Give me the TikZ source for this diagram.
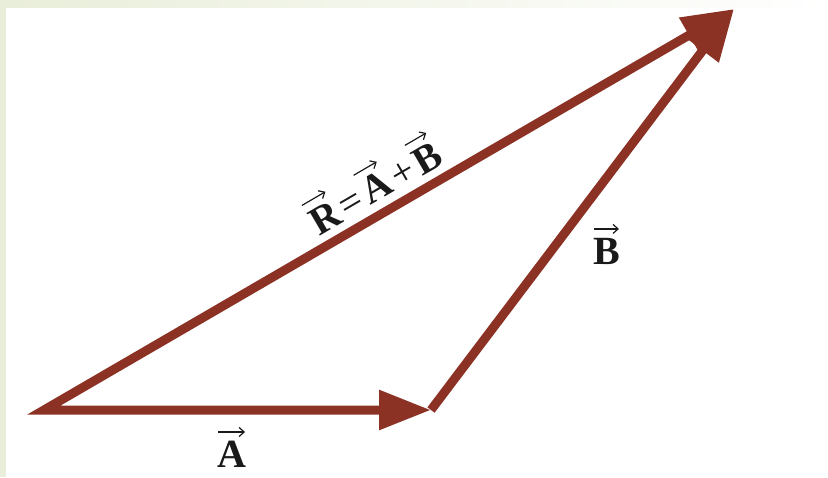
\documentclass[tikz,border=0pt]{standalone}
\usepackage{fontspec}
\setmainfont{Liberation Serif}
\usetikzlibrary{arrows.meta}

\definecolor{vecred}{RGB}{140,50,36}
\definecolor{inkblack}{RGB}{26,26,26}
\definecolor{stripgreen}{RGB}{233,238,218}

% bold letter with a thin arrow above it
\newsavebox{\letterbox}
\newlength{\letterwd}
\newcommand{\vecbf}[1]{\sbox{\letterbox}{\textbf{#1}}\setlength{\letterwd}{\wd\letterbox}%
    \rlap{\raisebox{30pt}{\tikz\draw[draw=inkblack, line width=1.2pt, -{Straight Barb[length=5pt, width=9pt]}]
        (1pt,0pt) -- (\letterwd-1pt,0pt);}}\usebox{\letterbox}}

\begin{document}
\begin{tikzpicture}[x=1pt, y=-1pt]
        \tikzset{
            vechead/.tip = {Triangle[length=52pt, width=38pt]},
            vec/.style = {draw=vecred, line width=9pt, line join=miter},
            lbl/.style = {text=inkblack, inner sep=0pt, font=\fontsize{40}{42}\selectfont}
        }

        \useasboundingbox (0,0) rectangle (828,477);
        \fill[white] (0,0) rectangle (828,477);
        \fill[stripgreen] (0,0) rectangle (6,477);
        \shade[left color=stripgreen, right color=white] (6,0) rectangle (828,7);

        \coordinate (O) at (44,410);
        \coordinate (P) at (431,410);
        \coordinate (Q) at (734,9);

        \draw[vec, vechead-vechead] (P) -- (O) -- (Q);
        \draw[vec, -vechead] (P) -- (Q);

        \node[lbl, rotate=30.24] (r) at (372,182)
            {\vecbf{R}\kern4pt=\kern4pt\vecbf{A}\kern4pt+\kern4pt\vecbf{B}};
        \node[lbl] (a) at (232,447) {\vecbf{A}};
        \node[lbl] (b) at (607,244) {\vecbf{B}};

    \end{tikzpicture}
\end{document}
